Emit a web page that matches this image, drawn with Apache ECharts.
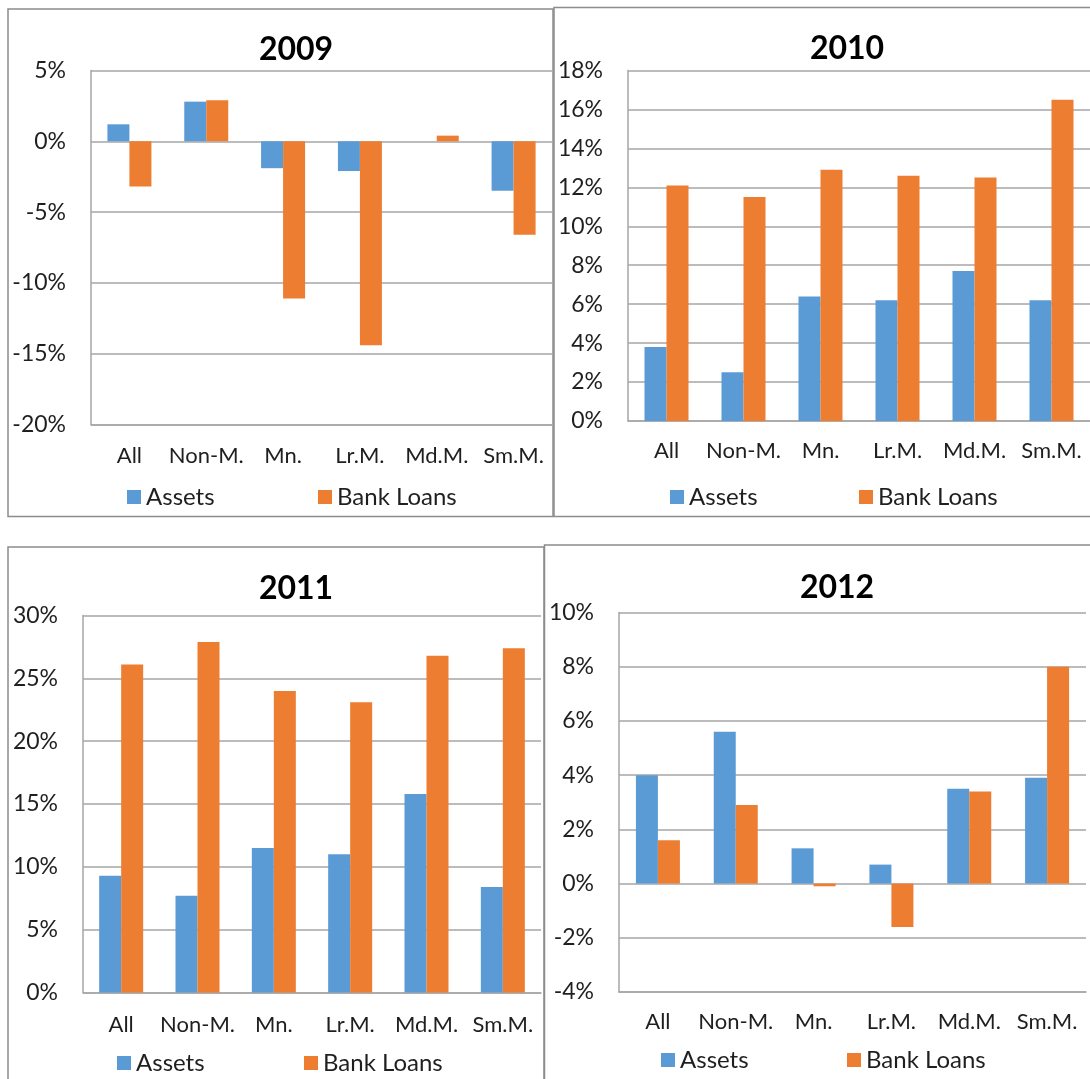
<!DOCTYPE html>
<html>
<head>
<meta charset="utf-8">
<script src="https://cdn.jsdelivr.net/npm/echarts@6/dist/echarts.min.js"></script>
<style>
  html, body { margin: 0; padding: 0; background: #fff; overflow: hidden; }
  #chart { width: 1090px; height: 1079px; }
</style>
</head>
<body>
<div id="chart"></div>
<script>
// categories and values (percent)
const categories = ['All', 'Non-M.', 'Mn.', 'Lr.M.', 'Md.M.', 'Sm.M.'];
const years = ['2009', '2010', '2011', '2012'];
const assets2009 = [1.2, 2.8, -1.9, -2.1, 0, -3.5];
const loans2009 = [-3.2, 2.9, -11.1, -14.4, 0.4, -6.6];
const assets2010 = [3.8, 2.5, 6.4, 6.2, 7.7, 6.2];
const loans2010 = [12.1, 11.5, 12.9, 12.6, 12.5, 16.5];
const assets2011 = [9.3, 7.7, 11.5, 11.0, 15.8, 8.4];
const loans2011 = [26.1, 27.9, 24.0, 23.1, 26.8, 27.4];
const assets2012 = [4.0, 5.6, 1.3, 0.7, 3.5, 3.9];
const loans2012 = [1.6, 2.9, -0.1, -1.6, 3.4, 8.0];
// y axis ticks: [min, max, interval]
const ticks2009 = [-20, 5, 5];
const ticks2010 = [0, 18, 2];
const ticks2011 = [0, 30, 5];
const ticks2012 = [-4, 10, 2];

const assetsData = [assets2009, assets2010, assets2011, assets2012];
const loansData = [loans2009, loans2010, loans2011, loans2012];
const tickData = [ticks2009, ticks2010, ticks2011, ticks2012];

// layout of each panel (pixels)
const panels = [
  {grid: {left: 91, top: 70.5, width: 461, height: 354}, title: [296, 50], labelMargin: 20, legendY: 497, legendX: [127, 318], box: [8, 9, 545, 507.5]},
  {grid: {left: 628, top: 70.5, width: 472, height: 350.5}, title: [847, 49], labelMargin: 19, legendY: 497, legendX: [670, 859], box: [554, 7.5, 600, 509]},
  {grid: {left: 83, top: 615.5, width: 458, height: 377}, title: [296, 589], labelMargin: 21, legendY: 1063, legendX: [117, 304], box: [8, 547, 536, 600]},
  {grid: {left: 619, top: 612.5, width: 467, height: 379.5}, title: [837, 588], labelMargin: 19, legendY: 1060, legendX: [661, 847], box: [544.5, 545, 600, 600]}
];

const font = 'Lato, "Open Sans", sans-serif';
const blue = '#5B9BD5';
const orange = '#ED7D31';
const gridColor = '#a6a6a6';
const textColor = '#1f1f1f';

const grid = [], xAxis = [], yAxis = [], series = [], legend = [], graphic = [];

panels.forEach(function (p, i) {
  grid.push(p.grid);
  xAxis.push({
    type: 'category',
    gridIndex: i,
    data: categories,
    axisTick: {show: false},
    axisLine: {show: true, onZero: false, lineStyle: {color: gridColor, width: 1.5}},
    axisLabel: {margin: p.labelMargin, fontSize: 22, fontFamily: font, color: textColor, interval: 0}
  });
  yAxis.push({
    type: 'value',
    gridIndex: i,
    min: tickData[i][0],
    max: tickData[i][1],
    interval: tickData[i][2],
    axisLine: {show: true, lineStyle: {color: gridColor, width: 1.5}},
    axisTick: {show: false},
    splitLine: {lineStyle: {color: gridColor, width: 1.5}},
    axisLabel: {margin: 25, fontSize: 23, fontFamily: font, color: textColor, formatter: '{value}%'}
  });
  series.push({
    name: 'Assets', type: 'bar', xAxisIndex: i, yAxisIndex: i,
    data: assetsData[i], barWidth: 22, barGap: '0%',
    itemStyle: {color: blue}
  });
  series.push({
    name: 'Bank Loans', type: 'bar', xAxisIndex: i, yAxisIndex: i,
    data: loansData[i], barWidth: 22, barGap: '0%',
    itemStyle: {color: orange}
  });
  ['Assets', 'Bank Loans'].forEach(function (name, k) {
    legend.push({
      data: [name],
      left: p.legendX[k],
      top: p.legendY - 13,
      padding: 0,
      icon: 'rect',
      itemWidth: 14,
      itemHeight: 14,
      selectedMode: false,
      textStyle: {fontSize: 24, lineHeight: 26, fontFamily: font, color: textColor}
    });
  });
  graphic.push({
    type: 'text',
    x: p.title[0],
    y: p.title[1],
    style: {text: years[i], font: 'bold 32px ' + font, fill: '#000', textAlign: 'center', textVerticalAlign: 'middle'}
  });
  graphic.push({
    type: 'rect',
    shape: {x: p.box[0], y: p.box[1], width: p.box[2], height: p.box[3]},
    style: {fill: 'none', stroke: '#8c8c8c', lineWidth: 1.5}
  });
});

const myChart = echarts.init(document.getElementById('chart'));
myChart.setOption({
  animation: false,
  grid: grid,
  xAxis: xAxis,
  yAxis: yAxis,
  legend: legend,
  series: series,
  graphic: graphic
});
</script>
</body>
</html>
